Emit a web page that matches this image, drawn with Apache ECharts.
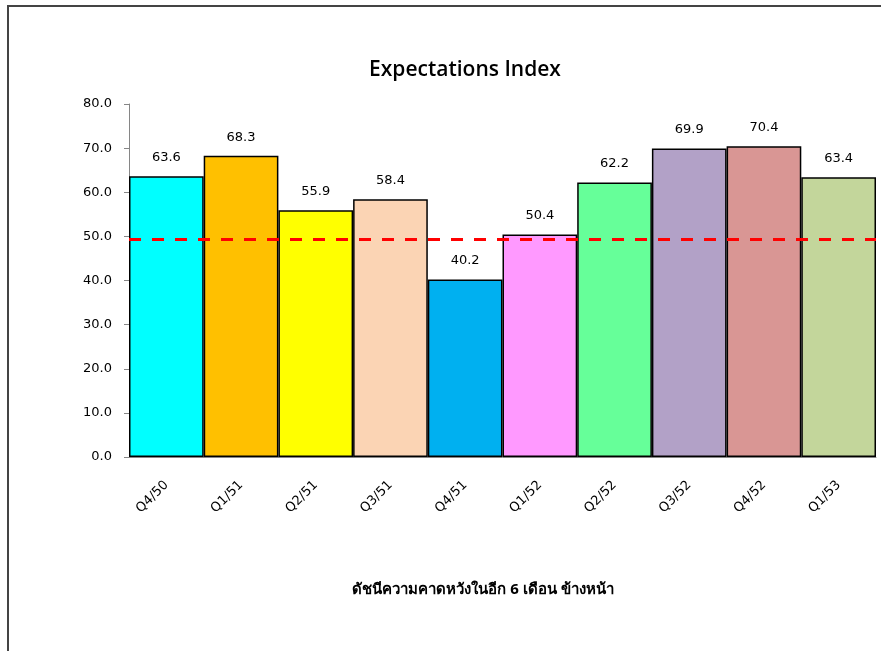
<!DOCTYPE html>
<html><head><meta charset="utf-8">
<script src="https://cdn.jsdelivr.net/npm/echarts@6/dist/echarts.min.js"></script>
<style>html,body{margin:0;padding:0;background:#fff}#c{width:881px;height:651px}</style>
</head><body><div id="c"></div>
<script>
const categories = ['Q4/50','Q1/51','Q2/51','Q3/51','Q4/51','Q1/52','Q2/52','Q3/52','Q4/52','Q1/53'];
const values = [63.6, 68.3, 55.9, 58.4, 40.2, 50.4, 62.2, 69.9, 70.4, 63.4];
const barColors = ['#00FFFF','#FFC000','#FFFF00','#FBD4B4','#00B0F0','#FF99FF','#66FF99','#B2A1C7','#D99694','#C3D69B'];
const referenceLevel = 49.3;
const yTicks = {min: 0, max: 80, interval: 10};

const chart = echarts.init(document.getElementById('c'), null, {renderer: 'canvas'});
chart.setOption({
  animation: false,
  backgroundColor: '#fff',
  title: {
    text: 'Expectations Index',
    left: 460, top: 55, textAlign: 'center',
    textStyle: {fontFamily: 'Open Sans', fontSize: 21, fontWeight: 600, color: '#000', letterSpacing: 0.6}
  },
  graphic: [
    {type: 'rect', shape: {x: 8, y: 6, width: 890, height: 660}, style: {fill: 'none', stroke: '#444', lineWidth: 2}, silent: true},
    {type: 'text', x: 483, y: 590,
     style: {text: 'ดัชนีความคาดหวังในอีก 6 เดือน ข้างหน้า', fontFamily: 'Noto Sans', fontSize: 15, fontWeight: 'bold', fill: '#000', align: 'center', verticalAlign: 'middle'}}
  ],
  grid: {left: 129, right: 5, top: 104, bottom: 194, containLabel: false},
  xAxis: {
    type: 'category', data: categories,
    axisLine: {lineStyle: {color: '#868686', width: 1}},
    axisTick: {show: false},
    axisLabel: {rotate: 45, margin: 26, fontFamily: 'DejaVu Sans', fontSize: 13, color: '#000'}
  },
  yAxis: {
    type: 'value', min: yTicks.min, max: yTicks.max, interval: yTicks.interval,
    splitLine: {show: false},
    axisLine: {show: true, lineStyle: {color: '#868686', width: 1}},
    axisTick: {show: true, inside: false, length: 5, lineStyle: {color: '#868686'}},
    axisLabel: {margin: 17, fontFamily: 'DejaVu Sans', fontSize: 13, letterSpacing: 1, color: '#000', formatter: v => v.toFixed(1)}
  },
  series: [{
    type: 'bar',
    data: values.map((v, i) => ({value: v, itemStyle: {color: barColors[i]}})),
    barCategoryGap: '0%',
    itemStyle: {borderColor: '#000', borderWidth: 1.5},
    label: {show: true, position: 'top', distance: 12, fontFamily: 'DejaVu Sans', fontSize: 13, letterSpacing: 1.5, color: '#000', formatter: p => p.value.toFixed(1)},
    markLine: {
      silent: true, symbol: 'none', label: {show: false},
      lineStyle: {color: '#FF0000', type: [12, 11], width: 3},
      data: [{yAxis: referenceLevel}]
    }
  }]
});
</script></body></html>
